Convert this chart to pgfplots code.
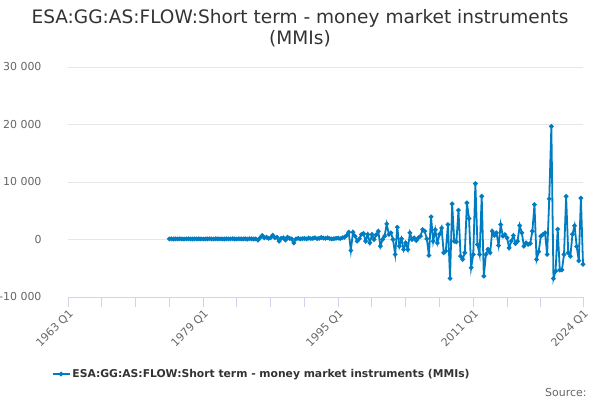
\documentclass[border=0pt]{standalone}
\usepackage{pgfplots}
\pgfplotsset{compat=1.18}
\usepackage{fontspec}
\setmainfont{DejaVu Sans}
\definecolor{series}{RGB}{0,124,194}
\definecolor{txt}{HTML}{333333}
\definecolor{lbl}{HTML}{666666}
\definecolor{gridc}{HTML}{E6E6E6}
\definecolor{axl}{HTML}{CCD6EB}
\begin{document}
\begin{tikzpicture}[x=1bp,y=1bp]
\path[use as bounding box] (0,0) rectangle (600,400);
\node[font=\fontsize{18.6}{21}\selectfont, text=txt, align=center] at (300,371.5) {ESA:GG:AS:FLOW:Short term - money market instruments\\(MMIs)};
\node[anchor=base east, font=\fontsize{11}{13}\selectfont, text=lbl] at (590,4) {Source:};
\begin{axis}[
  at={(68bp,103bp)}, anchor=south west, scale only axis,
  width=515bp, height=230bp,
  xmin=0, xmax=244, ymin=-10000, ymax=30000,
  scaled y ticks=false,
  ytick={-10000,0,10000,20000,30000},
  yticklabels={-10 000,0,10 000,20 000,30 000},
  xtick={0,64,128,192,244},
  xticklabels={1963 Q1,1979 Q1,1995 Q1,2011 Q1,2024 Q1},
  minor xtick={16,32,48,80,96,112,144,160,176,208,224},
  ymajorgrids, grid style={gridc, line width=0.8bp},
  axis x line*=bottom, axis y line*=left,
  y axis line style={draw=none},
  x axis line style={axl, line width=1bp},
  ytick style={draw=none},
  xtick style={axl, line width=1bp},
  minor x tick style={axl, line width=1bp},
  major tick length=10bp, minor tick length=10bp, tick align=outside,
  tick label style={font=\fontsize{11}{13}\selectfont, text=lbl},
  xticklabel style={rotate=45, anchor=north east, inner sep=1bp},
  yticklabel style={xshift=-13bp},
  legend style={at={(0.376,-0.335)}, anchor=center, draw=none, fill=none,
    font=\bfseries\fontsize{10.8}{13}\selectfont, text=txt},
  clip=false,
]
\addplot[series, line width=1.8bp, mark=*, mark size=1.3bp, mark options={solid}] coordinates {
(48,100)(49,120)(50,90)(51,110)(52,100)(53,130)(54,100)(55,80)(56,110)(57,120)
(58,100)(59,90)(60,110)(61,100)(62,120)(63,100)(64,90)(65,100)(66,110)(67,130)
(68,100)(69,90)(70,120)(71,100)(72,110)(73,100)(74,90)(75,120)(76,100)(77,110)
(78,140)(79,100)(80,90)(81,120)(82,110)(83,100)(84,130)(85,60)(86,150)(87,120)
(88,80)(89,100)(90,-100)(91,300)(92,700)(93,300)(94,400)(95,200)(96,300)(97,750)
(98,300)(99,400)(100,-300)(101,200)(102,300)(103,-100)(104,400)(105,200)(106,100)(107,-600)
(108,100)(109,200)(110,100)(111,150)(112,200)(113,100)(114,250)(115,150)(116,200)(117,300)
(118,150)(119,200)(120,350)(121,250)(122,200)(123,300)(124,150)(125,100)(126,150)(127,200)
(128,250)(129,150)(130,300)(131,400)(132,700)(133,1270)(134,-1910)(135,1270)(136,580)(137,-290)
(138,120)(139,870)(140,1040)(141,-290)(142,870)(143,-580)(144,870)(145,0)(146,800)(147,1450)
(148,-1160)(149,0)(150,580)(151,2720)(152,870)(153,1160)(154,0)(155,-2600)(156,2140)(157,-1160)
(158,120)(159,-1740)(160,-580)(161,-1740)(162,1160)(163,0)(164,290)(165,-170)(166,300)(167,580)
(168,1740)(169,1450)(170,120)(171,-2780)(172,3940)(173,-300)(174,1700)(175,-600)(176,900)(177,2000)
(178,-2300)(179,-2000)(180,2600)(181,-6770)(182,6200)(183,-300)(184,-400)(185,5100)(186,-2900)(187,-3470)
(188,-2300)(189,6370)(190,3650)(191,-4900)(192,-2600)(193,9720)(194,-870)(195,-2600)(196,7520)(197,-6370)
(198,-2600)(199,-1700)(200,-2300)(201,1450)(202,700)(203,1160)(204,-1040)(205,2600)(206,580)(207,870)
(208,290)(209,-1450)(210,-290)(211,700)(212,-700)(213,-300)(214,2430)(215,1160)(216,-1160)(217,-580)
(218,-870)(219,-700)(220,1450)(221,6070)(222,-3470)(223,-2100)(224,580)(225,870)(226,1160)(227,-2600)
(228,7060)(229,19670)(230,-6800)(231,-5500)(232,1800)(233,-5300)(234,-5300)(235,-2600)(236,7500)(237,-2300)
(238,-2900)(239,900)(240,2400)(241,-1200)(242,-3700)(243,7200)(244,-4300)
};
\addlegendentry{ESA:GG:AS:FLOW:Short term - money market instruments (MMIs)}
\end{axis}
\end{tikzpicture}
\end{document}
